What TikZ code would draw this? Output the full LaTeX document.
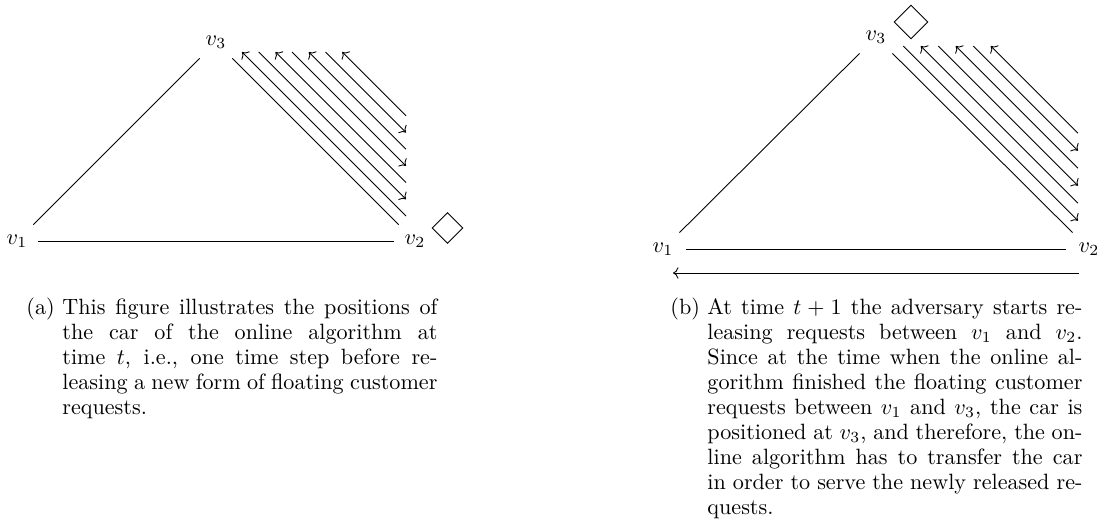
\documentclass[tikz,border=0pt]{standalone}
\usetikzlibrary{arrows.meta,positioning,calc,shapes.geometric}

\begin{document}
\begin{tikzpicture}[
  x=0.452pt, y=-0.452pt,
  vtx/.style={inner xsep=4.5pt, inner ysep=4.3pt},
  car/.style={draw, diamond, aspect=1, inner sep=0pt, minimum size=#1},
  lbl/.style={anchor=base west, inner sep=0pt},
  capt/.style={anchor=base west, inner sep=0pt, text width=169.5pt, align=justify, font=\fontsize{10}{11.3}\selectfont}
]
\useasboundingbox (0,0) rectangle (1107,521);

% left picture: time t
\node[vtx] (v1a) at (17,241) {$v_1$};
\node[vtx] (v2a) at (415,241) {$v_2$};
\node[vtx] (v3a) at (216,42) {$v_3$};
\node[car=14pt] (cara) at (447.5,228) {};
\draw (v1a)--(v2a); \draw (v1a)--(v3a); \draw (v3a)--(v2a);
\foreach \k in {0,...,6}{
  \coordinate (ta\k) at (242+16.7*\k,52);
  \coordinate (ba\k) at (406,216-16.7*\k);
  \ifodd\k \draw[->] (ta\k)--(ba\k); \else \draw[<-] (ta\k)--(ba\k); \fi
}

% right picture: time t+1
\node[vtx, inner xsep=5.5pt] (v1b) at (663,249) {$v_1$};
\node[vtx, inner xsep=5.5pt] (v2b) at (1089,249) {$v_2$};
\node[vtx, inner xsep=5.5pt] (v3b) at (876,37) {$v_3$};
\node[car=15.4pt] (carb) at (911,22) {};
\draw (v1b)--(v2b); \draw (v1b)--(v3b); \draw (v3b)--(v2b);
\foreach \k in {0,...,5}{
  \coordinate (tb\k) at (903.3+17.5*\k,46);
  \coordinate (bb\k) at (1078,220.7-17.5*\k);
  \ifodd\k \draw[<-] (tb\k)--(bb\k); \else \draw[->] (tb\k)--(bb\k); \fi
}
\coordinate (ra) at ($(v2b)+(-10,24)$);
\coordinate (rb) at ($(v1b)+(10,24)$);
\draw[->] (ra)--(rb);

% captions
\node[lbl] (la) at (26,314) {(a)};
\node[capt] (ca) at (62,314) {This figure illustrates the positions of\linebreak the car of the online algorithm at\linebreak time $t$, i.e., one time step before re-\linebreak leasing a new form of floating customer\linebreak requests.};
\node[lbl] (lb) at (670,314) {(b)};
\node[capt] (cb) at (707,314) {At time $t+1$ the adversary starts re-\linebreak leasing requests between $v_1$ and $v_2$.\linebreak Since at the time when the online al-\linebreak gorithm finished the floating customer\linebreak requests between $v_1$ and $v_3$, the car is\linebreak positioned at $v_3$, and therefore, the on-\linebreak line algorithm has to transfer the car\linebreak in order to serve the newly released re-\linebreak quests.};
\end{tikzpicture}
\end{document}
